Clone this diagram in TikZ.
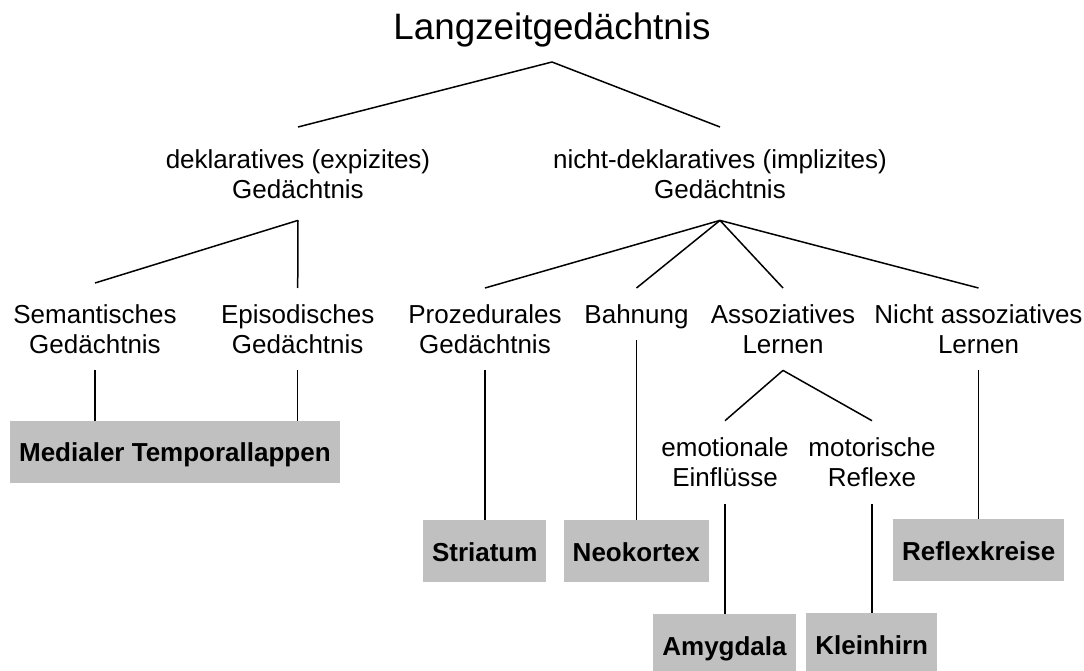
\documentclass[tikz,border=0pt]{standalone}
\usepackage{fontspec}
\setmainfont{Liberation Sans}
\definecolor{boxgray}{HTML}{C0C0C0}
\begin{document}
\begin{tikzpicture}[x=1pt,y=-1pt,
  txt/.style={font=\fontsize{26}{30}\selectfont, inner sep=0pt, align=center, anchor=north},
  area/.style={fill=boxgray, font=\fontsize{26}{30}\selectfont\bfseries, inner xsep=9pt, inner ysep=0pt, minimum height=61.6pt, text height=20pt, text depth=0pt, anchor=north},
  conn/.style={line width=1.5pt}]
\useasboundingbox (0,0) rectangle (1084,671);
% title
\node[font=\fontsize{36.8}{40}\selectfont, inner sep=0pt, anchor=base] (root) at (552,40) {Langzeitgedächtnis};
% level 2
\node[txt] (dekl) at (298,147) {\strut deklaratives (expizites)\\\strut Gedächtnis};
\node[txt] (ndekl) at (720,147) {\strut nicht-deklaratives (implizites)\\\strut Gedächtnis};
% level 3
\node[txt] (sem) at (95,302) {\strut Semantisches\\\strut Gedächtnis};
\node[txt] (epi) at (297.7,302) {\strut Episodisches\\\strut Gedächtnis};
\node[txt] (proz) at (485,302) {\strut Prozedurales\\\strut Gedächtnis};
\node[txt] (bahn) at (636.5,302) {\strut Bahnung};
\node[txt] (asso) at (783,302) {\strut Assoziatives\\\strut Lernen};
\node[txt] (nasso) at (978.5,302) {\strut Nicht assoziatives\\\strut Lernen};
% level 4
\node[txt] (emo) at (725,435.7) {\strut emotionale\\\strut Einflüsse};
\node[txt] (mot) at (872,435.7) {\strut motorische\\\strut Reflexe};
% brain areas
\node[area] (medial) at (174.9,420.7) {Medialer Temporallappen};
\node[area] (stri) at (484.75,520) {Striatum};
\node[area] (neo) at (636.3,520) {Neokortex};
\node[area] (refl) at (978.75,519) {Reflexkreise};
\node[area] (amy) at (724.5,614) {Amygdala};
\node[area] (klein) at (871.7,613) {Kleinhirn};
% connectors
\draw[conn] ([yshift=-22pt]root.base) -- ([yshift=20pt]dekl.north);
\draw[conn] ([yshift=-22pt]root.base) -- ([yshift=20pt]ndekl.north);
\draw[conn] ([yshift=-13pt]dekl.south) -- ([yshift=19pt]sem.north);
\draw[conn] ([yshift=-13pt]dekl.south) -- ([yshift=14pt]epi.north);
\foreach \n in {proz,bahn,asso,nasso}
  \draw[conn] ([yshift=-13pt]ndekl.south) -- ([yshift=14pt]\n.north);
\draw[conn] ([yshift=-8pt]sem.south) -- (sem.south |- medial.north);
\draw[conn] ([yshift=-8pt]epi.south) -- (epi.south |- medial.north);
\draw[conn] ([yshift=-8pt]proz.south) -- (proz.south |- stri.north);
\draw[conn] ([yshift=-8pt]bahn.south) -- (bahn.south |- neo.north);
\draw[conn] ([yshift=-8pt]nasso.south) -- (nasso.south |- refl.north);
\draw[conn] ([yshift=-8pt]asso.south) -- ([yshift=15pt]emo.north);
\draw[conn] ([yshift=-8pt]asso.south) -- ([yshift=15pt]mot.north);
\draw[conn] ([yshift=-8pt]emo.south) -- (emo.south |- amy.north);
\draw[conn] ([yshift=-8pt]mot.south) -- (mot.south |- klein.north);
\end{tikzpicture}
\end{document}
